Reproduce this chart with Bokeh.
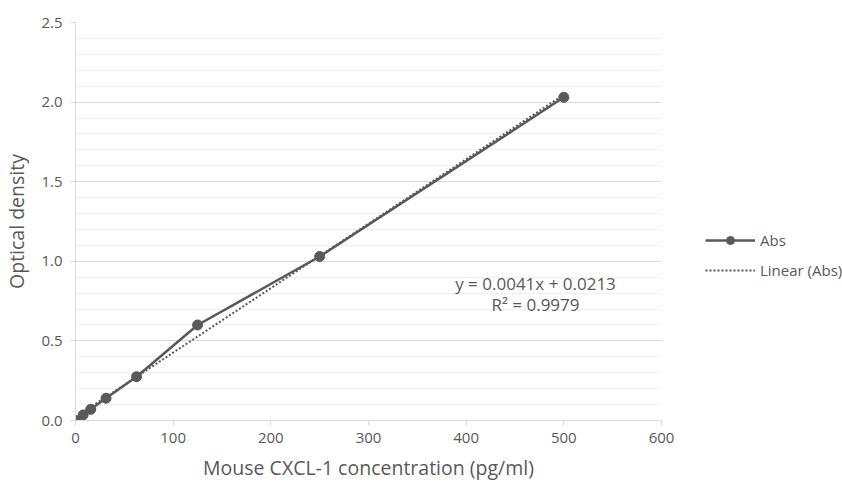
from bokeh.plotting import figure
from bokeh.models import Range1d, Legend, LegendItem, Label, NumeralTickFormatter, FixedTicker
from bokeh.embed import file_html
from bokeh.resources import INLINE

conc = [0, 7.8, 15.6, 31.25, 62.5, 125, 250, 500]
absv = [0.0, 0.035, 0.07, 0.14, 0.275, 0.60, 1.03, 2.03]
slope = 0.00405
intercept = 0.0213
fit_x = [0, 500]
eq_text = "y = 0.0041x + 0.0213"
r2_text = "R² = 0.9979"

FONT = "Open Sans"
GREY = "#595959"

p = figure(width=834, height=474, output_backend="svg", toolbar_location=None,
           x_range=Range1d(0, 600), y_range=Range1d(0, 2.5),
           min_border_left=75, min_border_top=22, min_border_right=0, min_border_bottom=54,
           frame_width=586, frame_height=398)
p.outline_line_color = None
p.background_fill_color = "white"

p.xaxis.ticker = FixedTicker(ticks=[0, 100, 200, 300, 400, 500, 600])
p.yaxis.ticker = FixedTicker(ticks=[0, 0.5, 1.0, 1.5, 2.0, 2.5],
                             minor_ticks=[i / 10 for i in range(26)])
p.yaxis.formatter = NumeralTickFormatter(format="0.0")
for ax in (p.xaxis, p.yaxis):
    ax.axis_line_color = "#d9d9d9"
    ax.major_tick_line_color = "#d9d9d9"
    ax.major_tick_out = 5
    ax.major_tick_in = 0
    ax.minor_tick_line_color = None
    ax.major_label_text_color = GREY
    ax.major_label_text_font = FONT
    ax.major_label_text_font_size = "15px"
    ax.axis_label_text_color = GREY
    ax.axis_label_text_font = FONT
    ax.axis_label_text_font_size = "19.5px"
    ax.axis_label_text_font_style = "normal"
p.xaxis.axis_label = "Mouse CXCL-1 concentration (pg/ml)"
p.yaxis.axis_label = "Optical density"
p.xaxis.major_label_standoff = 7
p.yaxis.major_label_standoff = 8
p.xaxis.axis_label_standoff = 8
p.yaxis.axis_label_standoff = 8
p.xgrid.grid_line_color = None
p.ygrid.grid_line_color = "#d9d9d9"
p.ygrid.minor_grid_line_color = "#f0f0f0"

fit_y = [slope * x + intercept for x in fit_x]
r_fit = p.line(fit_x, fit_y, line_color=GREY, line_width=2, line_dash="2 2")
r_line = p.line(conc, absv, line_color=GREY, line_width=2.5)
r_pts = p.scatter(conc, absv, size=10, fill_color=GREY, line_color=GREY)

legend = Legend(items=[LegendItem(label="Abs", renderers=[r_line, r_pts]),
                       LegendItem(label="Linear (Abs)", renderers=[r_fit])],
                location=(44, 140), glyph_width=50, glyph_height=20,
                label_standoff=5, spacing=10, padding=0, border_line_color=None,
                background_fill_alpha=0, label_text_color=GREY,
                label_text_font=FONT, label_text_font_size="15px")
p.add_layout(legend, "right")

p.add_layout(Label(x=471, y=0.86, text=eq_text, text_align="center", text_baseline="middle",
                   text_color=GREY, text_font=FONT, text_font_size="17px"))
p.add_layout(Label(x=471, y=0.73, text=r2_text, text_align="center", text_baseline="middle",
                   text_color=GREY, text_font=FONT, text_font_size="17px"))

open("out.html", "w").write(file_html(p, INLINE))
